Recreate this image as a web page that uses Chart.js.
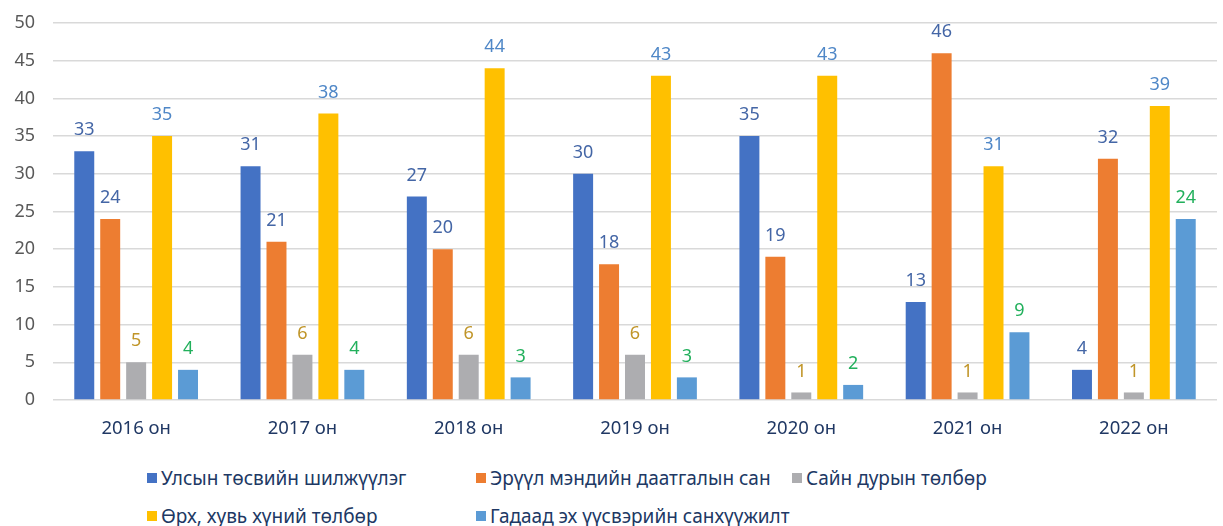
<!DOCTYPE html>
<html>
<head>
<meta charset="utf-8">
<script src="https://cdn.jsdelivr.net/npm/chart.js@4.4.1/dist/chart.umd.min.js"></script>
<style>
  html, body { margin: 0; padding: 0; background: #fff; overflow: hidden; }
  #wrap { position: relative; width: 1223px; height: 450px; }
  #legend {
    position: relative; width: 1223px; height: 76px;
    font-family: "Noto Sans", sans-serif; font-size: 19px; color: #203864;
  }
  #legend .item { position: absolute; display: flex; align-items: center; white-space: nowrap; }
  #legend .box { width: 10px; height: 10px; margin-right: 4px; }
</style>
</head>
<body>
<div id="wrap"><canvas id="chart"></canvas></div>
<div id="legend"></div>
<script>
// Categories and series
const years = ['2016 он', '2017 он', '2018 он', '2019 он', '2020 он', '2021 он', '2022 он'];
const stateBudget = [33, 31, 27, 30, 35, 13, 4];
const insuranceFund = [24, 21, 20, 18, 19, 46, 32];
const voluntaryPay = [5, 6, 6, 6, 1, 1, 1];
const householdPay = [35, 38, 44, 43, 43, 31, 39];
const foreignFunding = [4, 4, 3, 3, 2, 9, 24];
const yTicks = [0, 5, 10, 15, 20, 25, 30, 35, 40, 45, 50];

const seriesNames = [
  'Улсын төсвийн шилжүүлэг',
  'Эрүүл мэндийн даатгалын сан',
  'Сайн дурын төлбөр',
  'Өрх, хувь хүний төлбөр',
  'Гадаад эх үүсвэрийн санхүүжилт'
];
const seriesData = [stateBudget, insuranceFund, voluntaryPay, householdPay, foreignFunding];
const barColors = ['#4472C4', '#ED7D31', '#ADADB0', '#FFC000', '#5B9BD5'];
const labelColors = ['#4466A6', '#4466A6', '#C09528', '#4F87C7', '#22B05C'];

const FONT = '"Noto Sans", sans-serif';

// Value labels drawn above each bar
const valueLabels = {
  id: 'valueLabels',
  afterDatasetsDraw(chart) {
    const ctx = chart.ctx;
    ctx.save();
    ctx.font = '18px ' + FONT;
    ctx.textAlign = 'center';
    ctx.textBaseline = 'bottom';
    chart.data.datasets.forEach((ds, i) => {
      const meta = chart.getDatasetMeta(i);
      meta.data.forEach((bar, j) => {
        ctx.fillStyle = labelColors[i];
        ctx.fillText(ds.data[j], bar.x, bar.y - 12);
      });
    });
    ctx.restore();
  }
};

new Chart(document.getElementById('chart'), {
  type: 'bar',
  data: {
    labels: years,
    datasets: seriesData.map((d, i) => ({
      label: seriesNames[i],
      data: d,
      backgroundColor: barColors[i],
      borderWidth: 0,
      barPercentage: 0.77,
      categoryPercentage: 0.78
    }))
  },
  options: {
    responsive: true,
    maintainAspectRatio: false,
    animation: false,
    layout: { padding: { top: 23, right: 6, left: 0, bottom: 0 } },
    plugins: {
      legend: { display: false },
      tooltip: { enabled: false }
    },
    scales: {
      y: {
        min: 0,
        max: 50,
        afterBuildTicks(scale) { scale.ticks = yTicks.map(v => ({ value: v })); },
        afterFit(scale) {
          scale.width = 53;
          scale.paddingTop = 0;
          scale.paddingBottom = 0;
        },
        border: { display: false },
        grid: { color: '#D9D9D9', lineWidth: 1.5, drawTicks: false },
        ticks: { color: '#595959', font: { family: FONT, size: 18 }, padding: 18 }
      },
      x: {
        afterFit(scale) {
          scale.height = 50;
          scale.paddingLeft = 0;
          scale.paddingRight = 0;
        },
        border: { display: false },
        grid: { display: false },
        ticks: { color: '#203864', font: { family: FONT, size: 18.5 }, padding: 10 }
      }
    }
  },
  plugins: [valueLabels]
});

// Legend laid out in two rows of fixed columns
const legend = document.getElementById('legend');
const legendPos = [[147, 29], [476, 29], [792, 29], [147, 67], [476, 67]];
seriesNames.forEach((name, i) => {
  const item = document.createElement('div');
  item.className = 'item';
  item.style.left = legendPos[i][0] + 'px';
  item.style.top = (legendPos[i][1] - 14) + 'px';
  item.innerHTML = '<span class="box" style="background:' + barColors[i] + '"></span><span>' + name + '</span>';
  legend.appendChild(item);
});
</script>
</body>
</html>
